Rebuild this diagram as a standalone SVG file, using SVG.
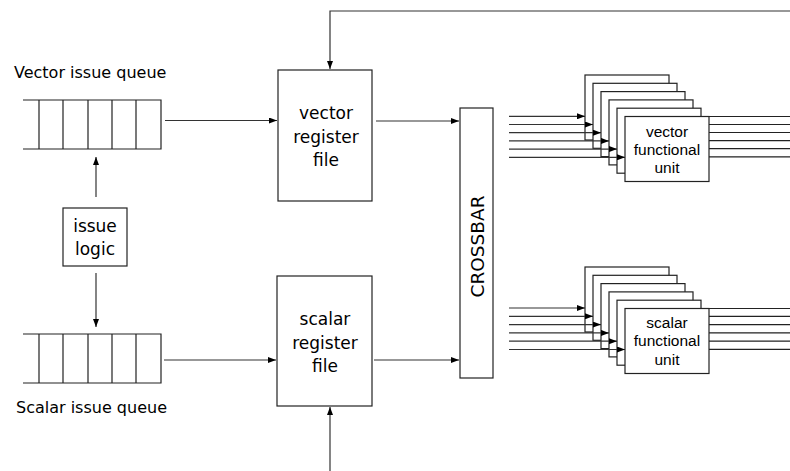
<svg xmlns="http://www.w3.org/2000/svg" width="790" height="471" viewBox="0 0 790 471">
<defs>
<style>
.bx{fill:#fff;stroke:#222;stroke-width:1.2}
.ln{fill:none;stroke:#222;stroke-width:1.2}
.arr{fill:none;stroke:#333;stroke-width:1.2;marker-end:url(#ah)}
.t{font-family:"DejaVu Sans",sans-serif;font-size:17px;fill:#000;text-anchor:middle}
.q{font-family:"DejaVu Sans",sans-serif;font-size:16px;fill:#000}
.fu{font-family:"Liberation Sans",Arial,sans-serif;font-size:15.5px;fill:#000;text-anchor:middle}
.cb{font-family:"DejaVu Sans",sans-serif;font-size:18.5px;fill:#000;text-anchor:middle}
</style>
<marker id="ah" viewBox="0 0 8 6" refX="8" refY="3" markerWidth="8" markerHeight="6" markerUnits="userSpaceOnUse" orient="auto">
<path d="M0,0 L8,3 L0,6 z" fill="#000"/>
</marker>
</defs>
<rect width="790" height="471" fill="#fff"/>

<g id="vector-queue">
<text class="q" x="14" y="78">Vector issue queue</text>
<path class="ln" d="M23,100 H161 V149 H23 M39,100 V149 M63,100 V149 M88,100 V149 M112,100 V149 M136,100 V149"/>
</g>

<g id="scalar-queue">
<text class="q" x="16" y="413">Scalar issue queue</text>
<path class="ln" d="M23,334 H161 V383 H23 M39,334 V383 M63,334 V383 M88,334 V383 M112,334 V383 M136,334 V383"/>
</g>

<g id="issue-logic">
<rect class="bx" x="63" y="208" width="64" height="58"/>
<text class="t" x="95" y="232">issue</text>
<text class="t" x="95" y="255">logic</text>
</g>

<g id="vector-register-file">
<rect class="bx" x="278" y="70" width="94" height="131"/>
<text class="t" x="326" y="119">vector</text>
<text class="t" x="326" y="142.5">register</text>
<text class="t" x="326" y="166">file</text>
</g>

<g id="scalar-register-file">
<rect class="bx" x="277" y="276" width="95" height="130"/>
<text class="t" x="325" y="325">scalar</text>
<text class="t" x="325" y="348.5">register</text>
<text class="t" x="325" y="372">file</text>
</g>

<g id="crossbar">
<rect class="bx" x="460" y="108" width="33" height="270"/>
<text class="cb" transform="translate(483.5,246.5) rotate(-90)">CROSSBAR</text>
</g>

<g id="vector-functional-unit">
<rect class="bx" x="585" y="75" width="84" height="65"/>
<rect class="bx" x="593" y="83.3" width="84" height="65"/>
<rect class="bx" x="601" y="91.6" width="84" height="65"/>
<rect class="bx" x="609" y="99.9" width="84" height="65"/>
<rect class="bx" x="617" y="108.2" width="84" height="65"/>
<rect class="bx" x="625" y="116.5" width="84" height="65"/>
<text class="fu" x="667" y="136.7">vector</text>
<text class="fu" x="667" y="155">functional</text>
<text class="fu" x="667" y="173.3">unit</text>
</g>

<g id="scalar-functional-unit">
<rect class="bx" x="585" y="267" width="84" height="65"/>
<rect class="bx" x="593" y="275.3" width="84" height="65"/>
<rect class="bx" x="601" y="283.6" width="84" height="65"/>
<rect class="bx" x="609" y="291.9" width="84" height="65"/>
<rect class="bx" x="617" y="300.2" width="84" height="65"/>
<rect class="bx" x="625" y="308.5" width="84" height="65"/>
<text class="fu" x="667" y="327.5">scalar</text>
<text class="fu" x="667" y="346">functional</text>
<text class="fu" x="667" y="364.5">unit</text>
</g>

<g id="connectors">
<line class="arr" x1="165" y1="120.5" x2="277" y2="120.5"/>
<line class="arr" x1="164" y1="360" x2="276" y2="360"/>
<line class="arr" x1="376" y1="121" x2="459" y2="121"/>
<line class="arr" x1="374" y1="360" x2="459" y2="360"/>
<line class="arr" x1="96" y1="197" x2="96" y2="157"/>
<line class="arr" x1="96" y1="273" x2="96" y2="327"/>
<polyline class="arr" points="790,11 330,11 330,69"/>
<line class="arr" x1="330" y1="471" x2="330" y2="407"/>

<line class="arr" x1="509" y1="116.3" x2="585" y2="116.3"/>
<line class="arr" x1="509" y1="124.5" x2="593" y2="124.5"/>
<line class="arr" x1="509" y1="132.7" x2="601" y2="132.7"/>
<line class="arr" x1="509" y1="140.9" x2="609" y2="140.9"/>
<line class="arr" x1="509" y1="149.1" x2="617" y2="149.1"/>
<line class="arr" x1="509" y1="157.3" x2="625" y2="157.3"/>
<path class="ln" d="M709,116.5 H790 M709,124.5 H790 M709,132.5 H790 M709,140.7 H790 M709,148.7 H790 M709,156.8 H790"/>

<line class="arr" x1="509" y1="308" x2="585" y2="308"/>
<line class="arr" x1="509" y1="316.3" x2="593" y2="316.3"/>
<line class="arr" x1="509" y1="324.6" x2="601" y2="324.6"/>
<line class="arr" x1="509" y1="332.9" x2="609" y2="332.9"/>
<line class="arr" x1="509" y1="341.2" x2="617" y2="341.2"/>
<line class="arr" x1="509" y1="349.5" x2="625" y2="349.5"/>
<path class="ln" d="M709,308.5 H790 M709,316.3 H790 M709,324.6 H790 M709,332.9 H790 M709,341.2 H790 M709,349.3 H790"/>
</g>
</svg>
